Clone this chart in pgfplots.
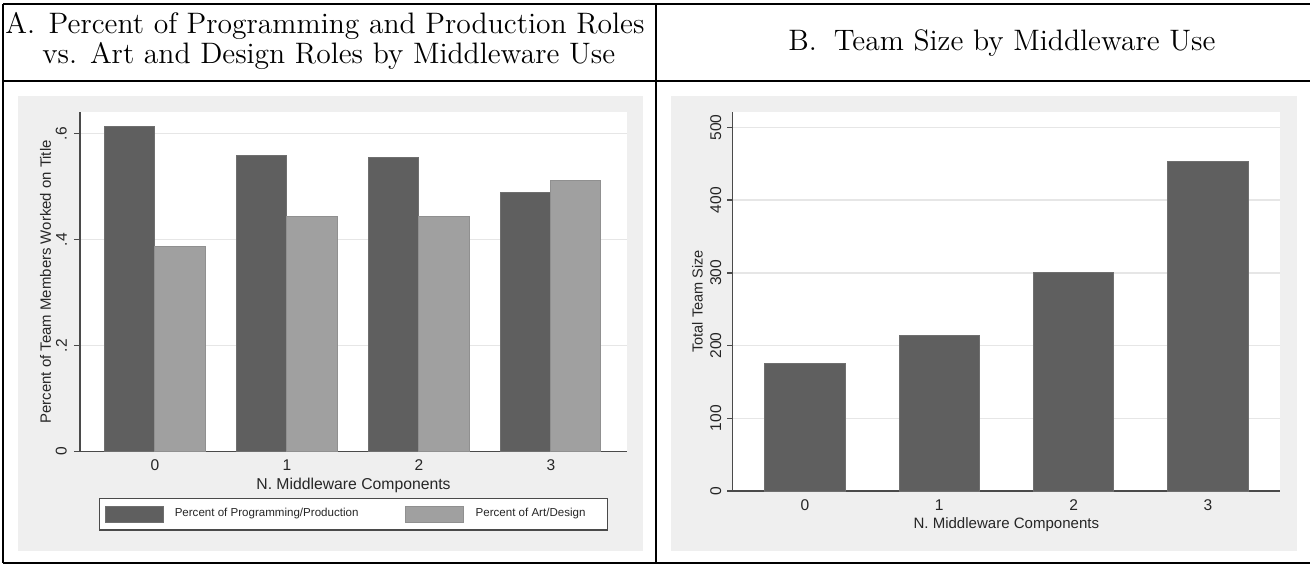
\documentclass[border=0pt]{standalone}
\usepackage{pgfplots}
\pgfplotsset{compat=1.18}
\usepackage{fontspec}
\newfontfamily\arial{Liberation Sans}
\definecolor{panel}{HTML}{EFEFEF}
\definecolor{darkbar}{HTML}{5F5F5F}
\definecolor{lightbar}{HTML}{A0A0A0}
\definecolor{axcol}{HTML}{4A4A4A}
\definecolor{gridcol}{HTML}{E6E6E6}
\pgfplotsset{
  swatch/.style={legend image code/.code={\draw[##1] (0bp,-4bp) rectangle (29bp,4bp);}},
  stata/.style={
    scale only axis,
    anchor=south west,
    axis x line*=bottom,
    axis y line*=left,
    axis line style={axcol, line width=0.7bp, -},
    axis background/.style={fill=white},
    ymajorgrids,
    grid style={gridcol, line width=0.7bp},
    tick align=outside,
    major tick length=3bp,
    ytick style={axcol, line width=0.7bp},
    xtick style={draw=none},
    xtick={0,1,2,3},
    xticklabels={0,1,2,3},
    tick label style={font=\arial\fontsize{7.8}{9}\selectfont, text=black!85},
    xticklabel style={anchor=north, inner sep=0pt},
    yticklabel style={rotate=90, anchor=south, inner sep=0pt},
    /pgf/number format/assume math mode=true,
    xlabel={N. Middleware Components},
    clip=false,
  }
}
\begin{document}
\begin{tikzpicture}
\path[use as bounding box] (0,0) rectangle (655bp,-282.5bp);
% grey graph regions
\fill[panel] (9bp,-48bp) rectangle (321.5bp,-275.5bp);
\fill[panel] (335.35bp,-48bp) rectangle (648.35bp,-275.5bp);
% table rules
\draw[line width=1bp] (1.65bp,-2bp) -- (656bp,-2bp);
\draw[line width=1bp] (1.65bp,-40.5bp) -- (656bp,-40.5bp);
\draw[line width=1bp] (1.65bp,-281.65bp) -- (656bp,-281.65bp);
\draw[line width=1bp] (1.65bp,-2bp) -- (1.65bp,-281.65bp);
\draw[line width=1bp] (328bp,-2bp) -- (328bp,-281.65bp);
% headers
\node[anchor=base west, inner sep=0pt, font=\fontsize{14.85}{17}\selectfont] at (2.5bp,-16.65bp) {A.\hspace{6.8bp}Percent of Programming and Production Roles};
\node[anchor=base west, inner sep=0pt, font=\fontsize{14.85}{17}\selectfont] at (21bp,-31.65bp) {vs. Art and Design Roles by Middleware Use};
\node[anchor=base west, inner sep=0pt, font=\fontsize{14.85}{17}\selectfont] at (394bp,-25bp) {B.\hspace{8.5bp}Team Size by Middleware Use};

% Panel A
\begin{axis}[stata,
  at={(40bp,-225.8bp)},
  width=273.5bp, height=169.8bp,
  xmin=-0.568, xmax=3.576, ymin=0, ymax=0.641,
  ybar=0pt, bar width=0.379,
  ytick={0,0.2,0.4,0.6},
  yticklabels={0,.2,.4,.6},
  yticklabel shift=3.35bp,
  xticklabel shift=0.85bp,
  ylabel={Percent of Team Members Worked on Title},
  every axis y label/.style={at={(axis description cs:-0.0631,0.5)}, rotate=90, anchor=center, inner sep=0pt,
    font=\arial\fontsize{7.5}{9}\selectfont, text=black!85},
  every axis x label/.style={at={(axis description cs:0.5,-0.0769)}, anchor=north, inner sep=0pt,
    font=\arial\fontsize{7.9}{9}\selectfont, text=black!85},
  legend columns=2,
  legend style={at={(axis description cs:0.0347,-0.1366)}, anchor=north west,
    draw=axcol, line width=0.6bp, fill=white, inner xsep=2.5bp, inner ysep=3bp,
    font=\arial\fontsize{5.8}{7}\selectfont, text=black!85,
    /tikz/every even column/.append style={column sep=21.5bp}},
]
\addplot[fill=darkbar, draw=darkbar!90!white, line width=0.5bp, swatch]
  coordinates {(0,0.614) (1,0.559) (2,0.5545) (3,0.4885)};
\addplot[fill=lightbar, draw=lightbar!90!black, line width=0.5bp, swatch]
  coordinates {(0,0.388) (1,0.443) (2,0.4445) (3,0.5125)};
\legend{\hspace{3.6bp}Percent of Programming/Production, \hspace{3.6bp}\makebox[61.5bp][l]{Percent of Art/Design}}
\end{axis}

% Panel B
\begin{axis}[stata,
  at={(366.35bp,-245.5bp)},
  width=273.65bp, height=189.65bp,
  xmin=-0.538, xmax=3.536, ymin=0, ymax=521.5,
  ybar=0pt, bar width=0.596,
  ytick={0,100,200,300,400,500},
  yticklabel shift=2.8bp,
  xticklabel shift=1.5bp,
  major tick length=2.7bp,
  ylabel={Total Team Size},
  every axis y label/.style={at={(axis description cs:-0.0643,0.5)}, rotate=90, anchor=center, inner sep=0pt,
    font=\arial\fontsize{7.3}{9}\selectfont, text=black!85},
  every axis x label/.style={at={(axis description cs:0.5,-0.0693)}, anchor=north, inner sep=0pt,
    font=\arial\fontsize{7.55}{9}\selectfont, text=black!85},
]
\addplot[fill=darkbar, draw=darkbar!90!white, line width=0.5bp]
  coordinates {(0,175.5) (1,213.5) (2,300.1) (3,453.2)};
\end{axis}
\end{tikzpicture}
\end{document}
